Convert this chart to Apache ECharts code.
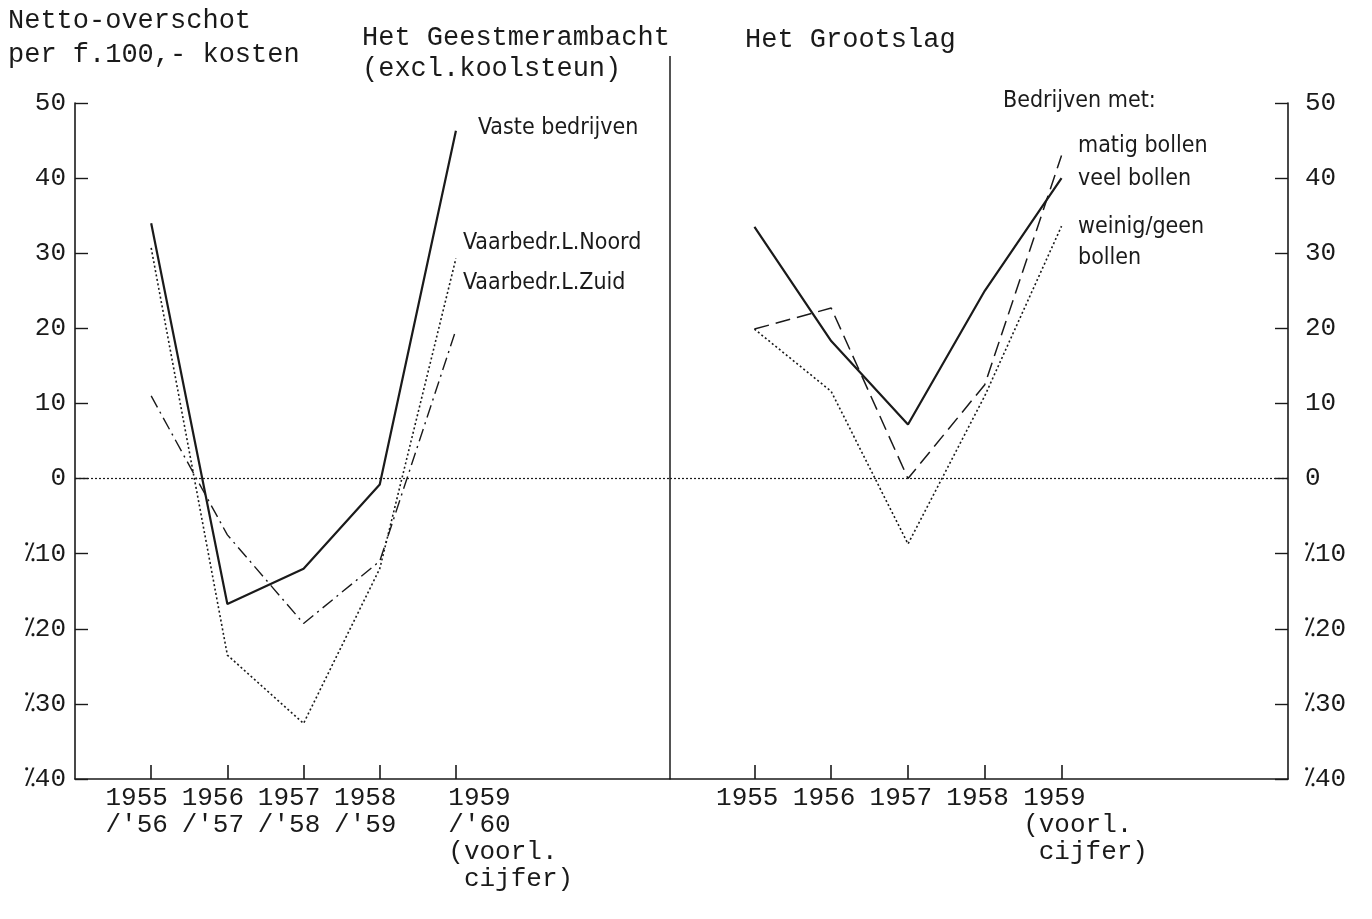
<!DOCTYPE html>
<html>
<head>
<meta charset="utf-8">
<script src="https://cdn.jsdelivr.net/npm/echarts@6/dist/echarts.min.js"></script>
<style>
html,body{margin:0;padding:0;background:#fff;}
#chart{width:1372px;height:919px;}
</style>
</head>
<body>
<div id="chart"></div>
<script>
// ---- data ----
const years = ['1955', '1956', '1957', '1958', '1959'];
const leftXLabels = ["1955\n/'56", "1956\n/'57", "1957\n/'58", "1958\n/'59", "1959\n/'60\n(voorl.\n cijfer)"];
const rightXLabels = ['1955', '1956', '1957', '1958', "1959\n(voorl.\n cijfer)"];
const yTicks = [-40, -30, -20, -10, 0, 10, 20, 30, 40, 50];

// Het Geestmerambacht (excl. koolsteun)
const vasteBedrijven = [34, -16.7, -12, -0.8, 46.3];
const vaarbedrNoord = [30.7, -23.5, -32.6, -12, 29.3];
const vaarbedrZuid = [11, -7.5, -19.3, -11, 19.8];

// Het Grootslag
const matigBollen = [19.9, 22.7, 0, 12.5, 43];
const veelBollen = [33.5, 18.3, 7.2, 25, 40];
const weinigBollen = [19.9, 11.6, -8.7, 11, 33.6];

const titleLeft = ['Netto-overschot', 'per f.100,- kosten'];
const panelLeft = ['Het Geestmerambacht', '(excl.koolsteun)'];
const panelRight = ['Het Grootslag'];
const leftNames = ['Vaste bedrijven', 'Vaarbedr.L.Noord', 'Vaarbedr.L.Zuid'];
const rightHeader = 'Bedrijven met:';
const rightNames = ['matig bollen', 'veel bollen', 'weinig/geen\nbollen'];

// ---- layout ----
const TYPE = "'Liberation Mono', 'DejaVu Sans Mono', monospace";
const NARROW = "'Liberation Sans Narrow', 'DejaVu Sans Condensed', 'Liberation Mono', monospace";
const INK = '#1a1a1a';

const toPts = arr => arr.map((v, i) => [i, v]);
const fmtY = v => (v < 0 ? '\u2052' + (-v) : String(v));

const solid = { color: INK, width: 2.2, type: 'solid' };
const dotted = { color: INK, width: 1.6, type: [2, 2.5] };
const dashDot = { color: INK, width: 1.4, type: [13, 5, 2, 5] };
const dashed = { color: INK, width: 1.5, type: [15, 7] };

const zeroLine = {
  silent: true, symbol: 'none', label: { show: false },
  lineStyle: { color: INK, width: 1.2, type: [2, 2] },
  data: [{ yAxis: 0 }]
};

function xAxisFor(gridIndex, min, max, labels, labelShift) {
  const ticks = labels.map((_, i) => i);
  return {
    type: 'value', gridIndex, min, max,
    axisLine: { show: true, onZero: false, lineStyle: { color: INK, width: 1.6 } },
    axisTick: { show: true, inside: true, length: 14, customValues: ticks, lineStyle: { color: INK, width: 1.6 } },
    splitLine: { show: false },
    axisLabel: {
      show: true,
      customValues: ticks.map(i => i + labelShift(i)),
      formatter: v => labels[Math.floor(v + 0.7)] || '',
      align: 'left', verticalAlign: 'top',
      margin: 6, fontFamily: TYPE, fontSize: 26, lineHeight: 27, color: INK
    }
  };
}

function yAxisFor(gridIndex, position, margin) {
  return {
    type: 'value', gridIndex, position, min: -40, max: 50, interval: 10,
    axisLine: { show: true, onZero: false, lineStyle: { color: INK, width: 1.6 } },
    axisTick: { show: true, inside: true, length: 13, lineStyle: { color: INK, width: 1.4 } },
    splitLine: { show: false },
    axisLabel: {
      show: true, margin, formatter: v => (yTicks.indexOf(v) >= 0 ? fmtY(v) : ''),
      fontFamily: TYPE, fontSize: 26, color: INK
    }
  };
}

function txt(text, x, y, font, size) {
  return {
    type: 'text', silent: true,
    style: { text, x, y, font: size + 'px ' + font, fill: INK, verticalAlign: 'middle', align: 'left', lineHeight: size * 1.6 }
  };
}

const graphics = [
  { type: 'line', silent: true, shape: { x1: 670, y1: 56, x2: 670, y2: 779 }, style: { stroke: INK, lineWidth: 1.5 } },
  txt(titleLeft[0], 8, 21, TYPE, 27),
  txt(titleLeft[1], 8, 55, TYPE, 27),
  txt(panelLeft[0], 362, 38, TYPE, 27),
  txt(panelLeft[1], 362, 69, TYPE, 27),
  txt(panelRight[0], 745, 40, TYPE, 27),
  txt(leftNames[0], 478, 128, NARROW, 23),
  txt(leftNames[1], 463, 243, NARROW, 23),
  txt(leftNames[2], 463, 283, NARROW, 23),
  txt(rightHeader, 1003, 101, NARROW, 23),
  txt(rightNames[0], 1078, 146, NARROW, 23),
  txt(rightNames[1], 1078, 179, NARROW, 23),
  { type: 'text', silent: true,
    style: { text: rightNames[2], x: 1078, y: 212, font: '23px ' + NARROW, fill: INK, verticalAlign: 'top', align: 'left', lineHeight: 31 } }
];

function line(name, data, xi, style, extra) {
  return Object.assign({
    name, type: 'line', xAxisIndex: xi, yAxisIndex: xi,
    data: toPts(data), symbol: 'none', smooth: false,
    lineStyle: style, itemStyle: { color: INK }, silent: true, animation: false
  }, extra || {});
}

const option = {
  backgroundColor: '#fff',
  animation: false,
  grid: [
    { left: 75, top: 103, width: 595, height: 676 },
    { left: 670, top: 103, width: 618, height: 676 }
  ],
  xAxis: [
    xAxisFor(0, -1, 6.81, leftXLabels, i => (i === leftXLabels.length - 1 ? -0.1 : -0.6)),
    xAxisFor(1, -1.1, 6.95, rightXLabels, () => -0.5)
  ],
  yAxis: [
    yAxisFor(0, 'left', 9),
    yAxisFor(1, 'right', 17)
  ],
  graphic: graphics,
  series: [
    line(leftNames[0], vasteBedrijven, 0, solid, { markLine: zeroLine, z: 5 }),
    line(leftNames[1], vaarbedrNoord, 0, dotted),
    line(leftNames[2], vaarbedrZuid, 0, dashDot),
    line(rightNames[0], matigBollen, 1, dashed),
    line(rightNames[1], veelBollen, 1, solid, { markLine: zeroLine, z: 5 }),
    line(rightNames[2], weinigBollen, 1, dotted)
  ]
};

const chart = echarts.init(document.getElementById('chart'), null, { renderer: 'canvas' });
chart.setOption(option);
</script>
</body>
</html>
